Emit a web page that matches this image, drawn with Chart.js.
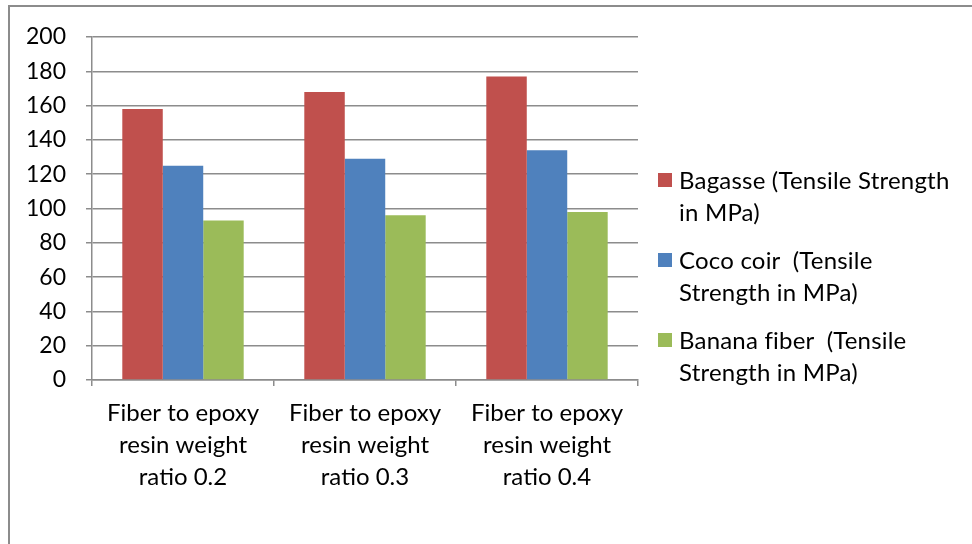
<!DOCTYPE html>
<html>
<head>
<meta charset="utf-8">
<script src="https://cdn.jsdelivr.net/npm/chart.js@4/dist/chart.umd.min.js"></script>
<style>
    html, body { margin: 0; padding: 0; background: #fff; }
    #wrap { position: relative; width: 972px; height: 544px; overflow: hidden; }
    #frame {
        position: absolute; left: 8px; top: 5px; width: 980px; height: 560px;
        border-left: 2px solid #8c8c8c; border-top: 2px solid #8c8c8c;
    }
    #chart { position: absolute; left: 0; top: 0; }
    #legend {
        position: absolute; left: 658px; top: 164px; font-family: Lato, sans-serif; font-size: 24px;
        color: #000; font-variant-ligatures: none; letter-spacing: 0.2px;
    }
    .item { position: relative; height: 80px; }
    .box { position: absolute; left: 0; top: 9px; width: 14px; height: 14px; }
    .text { position: absolute; left: 21px; top: 0; line-height: 32px; white-space: pre; }
</style>
</head>
<body>
<div id="wrap">
    <div id="frame"></div>
    <canvas id="chart" width="972" height="544"></canvas>
    <div id="legend"></div>
</div>
<script>
// Data
const categories = [
    ['Fiber to epoxy', 'resin weight', 'ratio 0.2'],
    ['Fiber to epoxy', 'resin weight', 'ratio 0.3'],
    ['Fiber to epoxy', 'resin weight', 'ratio 0.4']
];
const bagasse = [158, 168, 177];
const cocoCoir = [125, 129, 134];
const bananaFiber = [93, 96, 98];

const seriesNames = [
    ['Bagasse (Tensile Strength', 'in MPa)'],
    ['Coco coir  (Tensile', 'Strength in MPa)'],
    ['Banana fiber  (Tensile', 'Strength in MPa)']
];
const seriesColors = ['#C0504D', '#4F81BD', '#9BBB59'];

const yMin = 0;
const yMax = 200;
const yStep = 20;

Chart.defaults.font.family = 'Lato, sans-serif';
Chart.defaults.color = '#000';

const gridColor = '#8c8c8c';

const chart = new Chart(document.getElementById('chart'), {
    type: 'bar',
    data: {
        labels: categories,
        datasets: [bagasse, cocoCoir, bananaFiber].map((d, i) => ({
            label: seriesNames[i].join(' '),
            data: d,
            backgroundColor: seriesColors[i],
            borderWidth: 0,
            categoryPercentage: 0.667,
            barPercentage: 1.0
        }))
    },
    options: {
        responsive: false,
        animation: false,
        layout: {
            padding: { left: 0, top: 37, right: 334, bottom: 0 }
        },
        plugins: {
            legend: { display: false },
            tooltip: { enabled: false }
        },
        scales: {
            x: {
                grid: {
                    drawOnChartArea: false,
                    drawTicks: true,
                    tickLength: 6,
                    color: gridColor,
                    lineWidth: 1.5,
                    offset: true
                },
                border: { color: gridColor, width: 1.5 },
                ticks: {
                    font: { size: 24, lineHeight: 1.333 },
                    padding: 11,
                    maxRotation: 0
                },
                afterFit: function(scale) { scale.height = 164; }
            },
            y: {
                min: yMin,
                max: yMax,
                grid: {
                    color: gridColor,
                    lineWidth: 1.5,
                    drawTicks: true,
                    tickLength: 6
                },
                border: { color: gridColor, width: 1.5 },
                ticks: {
                    stepSize: yStep,
                    font: { size: 23 },
                    padding: 20
                },
                afterFit: function(scale) { scale.width = 92; }
            }
        }
    }
});

// Legend drawn as HTML so the wrapped lines match the reference
const legend = document.getElementById('legend');
seriesNames.forEach((lines, i) => {
    const item = document.createElement('div');
    item.className = 'item';
    const box = document.createElement('div');
    box.className = 'box';
    box.style.background = seriesColors[i];
    const text = document.createElement('div');
    text.className = 'text';
    text.textContent = lines.join('\n');
    item.appendChild(box);
    item.appendChild(text);
    legend.appendChild(item);
});
</script>
</body>
</html>
